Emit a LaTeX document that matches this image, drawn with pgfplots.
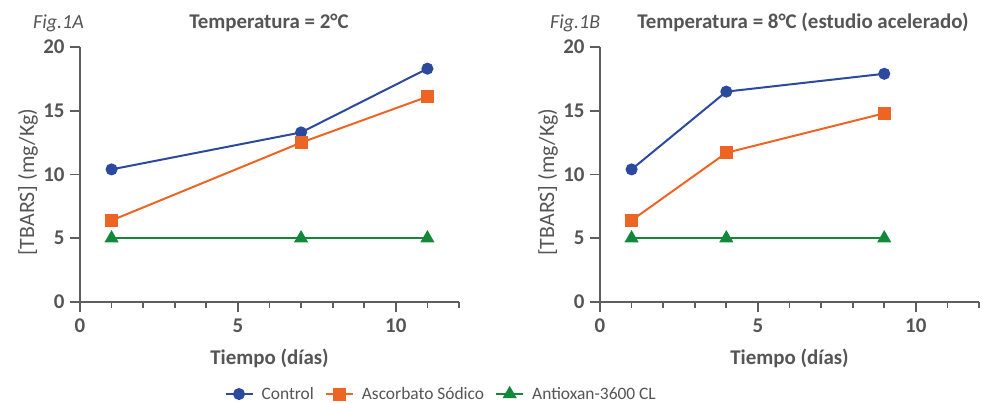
\documentclass[border=0pt]{standalone}
\usepackage{fontspec}
\setmainfont{Carlito}
\usepackage{pgfplots}
\pgfplotsset{compat=1.18}
\definecolor{cblue}{HTML}{2B4A9E}
\definecolor{corange}{HTML}{EE6523}
\definecolor{cgreen}{HTML}{13873A}
\definecolor{axgray}{HTML}{5E5E5E}
\definecolor{txtgray}{HTML}{555555}
\newcommand{\fs}[1]{\fontsize{#1}{#1}\selectfont}
\pgfplotsset{
 myaxis/.style={
  scale only axis, width=379bp, height=255bp,
  xmin=0,xmax=12,ymin=0,ymax=20,
  axis lines=left, axis line style={axgray, line width=1.8bp, -},
  xtick={0,5,10}, minor xtick={1,2,3,4,6,7,8,9,11,12},
  ytick={0,5,10,15,20},
  tick align=outside, tick style={axgray, line width=1.8bp},
  major tick length=10bp, minor tick length=6bp,
  /pgf/number format/assume math mode=true,
  tick label style={font=\fs{21}\bfseries, text=txtgray},
  xticklabel style={yshift=-3bp},
  yticklabel style={xshift=-2bp},
  xlabel={Tiempo (días)}, ylabel={[TBARS] (mg/Kg)},
  xlabel style={font=\fs{21}\bfseries, text=txtgray, at={(axis description cs:0.5,-0.247)}, anchor=base},
  ylabel style={font=\fs{22}, text=txtgray, at={(axis description cs:-0.137,0.47)}, anchor=center},
  clip=false,
  legend image code/.code={\draw[mark repeat=2,mark phase=2,##1] plot coordinates {(0bp,0bp) (13.5bp,0bp) (27bp,0bp)};},
 },
 ctrl/.style={cblue, line width=2bp, mark=*, mark size=5bp, mark options={solid}},
 asc/.style={corange, line width=2bp, mark=square*, mark size=5.5bp},
 ant/.style={cgreen, line width=2bp, mark=triangle*, mark size=6.2bp},
}
\begin{document}
\begin{tikzpicture}
\useasboundingbox (0,0) rectangle (982bp,403bp);
\node[anchor=base west, font=\fs{20}\itshape, text=txtgray, inner sep=0] at (33bp,374bp) {Fig.1A};
\node[anchor=base, font=\fs{21}\bfseries, text=txtgray, inner sep=0] at (269bp,374bp) {Temperatura = 2°C};
\node[anchor=base west, font=\fs{20}\itshape, text=txtgray, inner sep=0] at (550bp,374bp) {Fig.1B};
\node[anchor=base, font=\fs{21}\bfseries, text=txtgray, inner sep=0] at (803bp,374bp) {Temperatura = 8°C (estudio acelerado)};
\begin{axis}[myaxis, at={(80bp,101bp)}, anchor=south west,
  legend columns=3,
  legend style={at={(0.953,-0.361)}, anchor=center, draw=none, fill=none,
    font=\fs{17.5}, text=txtgray,
    /tikz/every odd column/.append style={column sep=6bp},
    /tikz/every even column/.append style={column sep=9bp}},
  ]
\addplot[ctrl] coordinates {(1,10.4) (7,13.3) (11,18.3)};
\addlegendentry{Control}
\addplot[asc] coordinates {(1,6.4) (7,12.5) (11,16.1)};
\addlegendentry{Ascorbato Sódico}
\addplot[ant] coordinates {(1,5) (7,5) (11,5)};
\addlegendentry{Antioxan-3600 CL}
\end{axis}
\begin{axis}[myaxis, at={(600bp,101bp)}, anchor=south west]
\addplot[ctrl] coordinates {(1,10.4) (4,16.5) (9,17.9)};
\addplot[asc] coordinates {(1,6.4) (4,11.7) (9,14.8)};
\addplot[ant] coordinates {(1,5) (4,5) (9,5)};
\end{axis}
\end{tikzpicture}
\end{document}
